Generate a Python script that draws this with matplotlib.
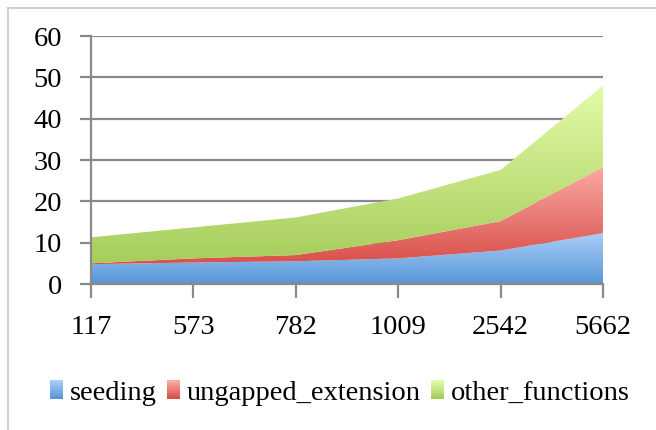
import numpy as np
import matplotlib
matplotlib.use("Agg")
import matplotlib.pyplot as plt
from matplotlib.colors import LinearSegmentedColormap, to_rgb
from matplotlib.patches import Rectangle
from matplotlib.legend_handler import HandlerBase

categories = ["117", "573", "782", "1009", "2542", "5662"]
seeding = [4.8, 5.2, 5.5, 6.2, 8.1, 12.3]
ungapped_extension = [0.2, 1.0, 1.5, 4.4, 7.1, 16.0]
other_functions = [6.3, 7.5, 9.1, 10.1, 12.4, 19.7]
series_names = ["seeding", "ungapped_extension", "other_functions"]
yticks = [0, 10, 20, 30, 40, 50, 60]

grads = [("#5796d6", "#a9cdfa"), ("#d9504a", "#fbaaa5"), ("#a6cd5c", "#e3fba8")]

plt.rcParams['font.family'] = ['Liberation Serif', 'DejaVu Serif']
fig = plt.figure(figsize=(6.56, 4.30), dpi=100)
ax = fig.add_axes([91/656, 1-284/430, (603-91)/656, (284-36)/430])

x = np.arange(len(categories))
base = np.zeros(len(x))
for vals, name, (c0, c1) in zip([seeding, ungapped_extension, other_functions], series_names, grads):
    top = base + np.array(vals)
    poly = ax.fill_between(x, base, top, color=c0, linewidth=0, zorder=2)
    cmap = LinearSegmentedColormap.from_list(name, [c0, c1])
    ymin, ymax = base.min(), top.max()
    grad = np.linspace(0, 1, 256).reshape(-1, 1)
    im = ax.imshow(grad, cmap=cmap, aspect='auto', origin='lower',
                   extent=[x[0], x[-1], ymin, ymax], zorder=2.5, interpolation='bilinear')
    im.set_clip_path(poly.get_paths()[0], transform=ax.transData)
    poly.set_visible(False)
    base = top

ax.set_xlim(x[0], x[-1])
ax.set_ylim(0, 60)
ax.set_yticks(yticks)
ax.set_xticks(x)
ax.set_xticklabels(categories)
ax.yaxis.grid(True, color='#8a8a8a', linewidth=1.6, zorder=1)
ax.set_axisbelow(True)
for s in ['top', 'right']:
    ax.spines[s].set_visible(False)
for s in ['left', 'bottom']:
    ax.spines[s].set_color('#8a8a8a')
    ax.spines[s].set_linewidth(1.6)
    ax.spines[s].set_zorder(3)
ax.tick_params(axis='y', length=8, width=1.6, color='#8a8a8a', pad=13, labelsize=20.5)
ax.tick_params(axis='x', length=10, width=1.6, color='#8a8a8a', pad=12, labelsize=20.5)


class GradHandler(HandlerBase):
    def __init__(self, c0, c1):
        super().__init__()
        self.c0, self.c1 = np.array(to_rgb(c0)), np.array(to_rgb(c1))

    def create_artists(self, legend, orig_handle, xdescent, ydescent, width, height, fontsize, trans):
        arts = []
        n = 12
        for i in range(n):
            t = i / (n - 1)
            col = self.c0 * (1 - t) + self.c1 * t
            r = Rectangle((-xdescent, -ydescent + height * i / n), width, height / n + 0.3,
                          facecolor=col, edgecolor='none', transform=trans)
            arts.append(r)
        return arts


leg_handles = [Rectangle((0, 0), 1, 1) for _ in grads]
hmap = {h: GradHandler(c0, c1) for h, (c0, c1) in zip(leg_handles, grads)}
fig.legend(leg_handles, series_names, loc='center', bbox_to_anchor=(0.518, 1-393/430),
           ncol=3, frameon=False, fontsize=20.5, handlelength=0.45, handleheight=0.6,
           handletextpad=0.25, columnspacing=0.35, handler_map=hmap)

# outer frame
fig.add_artist(plt.Line2D([7.5/656, 7.5/656], [0, 1-8/430], color='#c8c8c8', linewidth=1.2))
fig.add_artist(plt.Line2D([7.5/656, 1], [1-8/430, 1-8/430], color='#c8c8c8', linewidth=1.2))

fig.savefig("out.png", dpi=100)
